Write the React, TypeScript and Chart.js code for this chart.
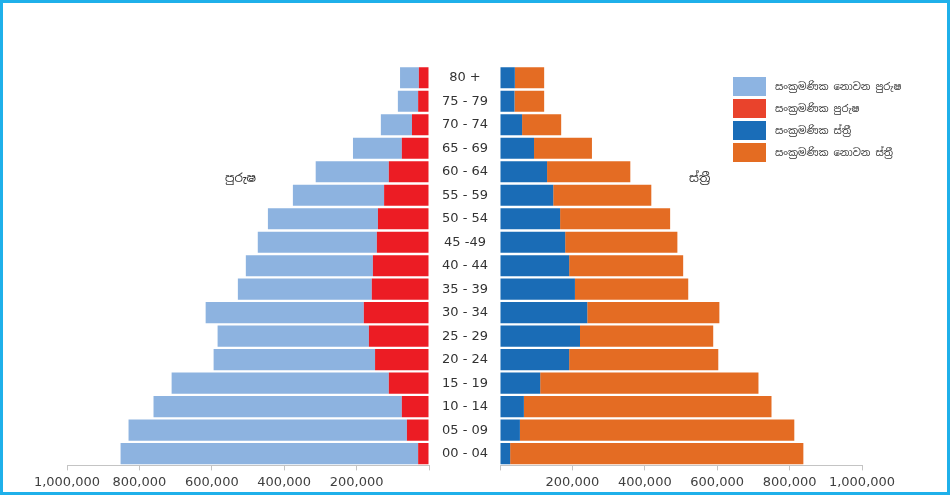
import React, { useEffect, useRef } from "react";
import { Chart, registerables } from "chart.js";
Chart.register(...registerables);

const ageGroups = ["80 +", "75 - 79", "70 - 74", "65 - 69", "60 - 64", "55 - 59", "50 - 54", "45 -49", "40 - 44", "35 - 39", "30 - 34", "25 - 29", "20 - 24", "15 - 19", "10 - 14", "05 - 09", "00 - 04"];
const maleMigrant = [28000, 30000, 47000, 75000, 111000, 124000, 141000, 144000, 155000, 158000, 180000, 166000, 149000, 111000, 75000, 61000, 30000];
const maleNonMigrant = [52000, 56000, 86000, 135000, 202000, 252000, 304000, 329000, 351000, 370000, 437000, 418000, 446000, 600000, 686000, 769000, 822000];
const femaleMigrant = [41000, 40000, 61000, 94000, 130000, 147000, 166000, 180000, 191000, 207000, 241000, 221000, 191000, 111000, 66000, 55000, 28000];
const femaleNonMigrant = [81000, 82000, 108000, 160000, 230000, 271000, 304000, 310000, 315000, 313000, 365000, 368000, 412000, 603000, 684000, 758000, 810000];

const seriesNames = ["සංක්‍රමණික නොවන පුරුෂ", "සංක්‍රමණික පුරුෂ", "සංක්‍රමණික ස්ත්‍රී", "සංක්‍රමණික නොවන ස්ත්‍රී"];
const maleTitle = "පුරුෂ";
const femaleTitle = "ස්ත්‍රී";
const axisMax = 1000000;
const axisStep = 200000;

const C_LBLUE = "#8db3e0";
const C_RED = "#ec1c24";
const C_BLUE = "#1a6cb6";
const C_ORANGE = "#e46c23";
const LEGEND_COLORS = ["#8db4e2", "#e9432c", "#1a6db8", "#e46c22"];

const TICK_FONT = { family: "'DejaVu Sans', sans-serif", size: 13 };
const TICK_COLOR = "#404040";
const SINHALA_FONT = "'Noto Sans Sinhala', 'Noto Sans', 'DejaVu Sans', sans-serif";

function fmt(v: number) {
  if (v === 0) return "";
  return Number(v).toLocaleString("en-US");
}

function xScale(reverse: boolean) {
  return {
    type: "linear" as const,
    min: 0,
    max: axisMax,
    reverse,
    stacked: true,
    ticks: {
      stepSize: axisStep,
      color: TICK_COLOR,
      font: TICK_FONT,
      maxRotation: 0,
      autoSkip: false,
      padding: 4,
      callback: (v: any) => fmt(Number(v)),
    },
    grid: {
      display: true,
      drawOnChartArea: false,
      drawTicks: true,
      tickLength: 5,
      color: "#c4c4c4",
    },
    border: { display: true, color: "#c4c4c4" },
  };
}

export default function App() {
  const leftRef = useRef<HTMLCanvasElement>(null);
  const rightRef = useRef<HTMLCanvasElement>(null);

  useEffect(() => {
    const left = new Chart(leftRef.current!, {
      type: "bar",
      data: {
        labels: ageGroups,
        datasets: [
          { label: seriesNames[1], data: maleMigrant, backgroundColor: C_RED, barPercentage: 0.9, categoryPercentage: 1 },
          { label: seriesNames[0], data: maleNonMigrant, backgroundColor: C_LBLUE, barPercentage: 0.9, categoryPercentage: 1 },
        ],
      },
      options: {
        indexAxis: "y",
        responsive: false,
        animation: false,
        layout: { padding: { left: 67, right: 11, top: 66, bottom: 1 } },
        plugins: { legend: { display: false }, tooltip: { enabled: false } },
        scales: {
          x: xScale(true),
          y: { type: "category", stacked: true, display: false },
        },
      },
    });
    const right = new Chart(rightRef.current!, {
      type: "bar",
      data: {
        labels: ageGroups,
        datasets: [
          { label: seriesNames[2], data: femaleMigrant, backgroundColor: C_BLUE, barPercentage: 0.9, categoryPercentage: 1 },
          { label: seriesNames[3], data: femaleNonMigrant, backgroundColor: C_ORANGE, barPercentage: 0.9, categoryPercentage: 1 },
        ],
      },
      options: {
        indexAxis: "y",
        responsive: false,
        animation: false,
        layout: { padding: { left: 0, right: 88, top: 66, bottom: 1 } },
        plugins: { legend: { display: false }, tooltip: { enabled: false } },
        scales: {
          x: xScale(false),
          y: {
            type: "category",
            stacked: true,
            position: "left",
            grid: { display: false, drawTicks: false },
            border: { display: false },
            ticks: { color: "#333", font: TICK_FONT, crossAlign: "center", padding: 12, autoSkip: false },
            afterFit: (scale: any) => {
              scale.width = 65;
            },
          },
        },
      },
    });
    return () => {
      left.destroy();
      right.destroy();
    };
  }, []);

  return (
    <div
      style={{
        position: "fixed",
        left: 0,
        top: 0,
        width: 950,
        height: 495,
        boxSizing: "border-box",
        border: "3px solid #1fb0ea",
        background: "#fff",
        overflow: "hidden",
      }}
    >
      <canvas ref={leftRef} width={440} height={495} style={{ position: "absolute", left: -3, top: -3 }} />
      <canvas ref={rightRef} width={515} height={495} style={{ position: "absolute", left: 432, top: -3 }} />
      <div style={{ position: "absolute", left: 222, top: 167, fontFamily: SINHALA_FONT, fontSize: 12, color: "#333" }}>{maleTitle}</div>
      <div style={{ position: "absolute", left: 686, top: 167, fontFamily: SINHALA_FONT, fontSize: 12, color: "#333" }}>{femaleTitle}</div>
      <div style={{ position: "absolute", left: 730, top: 72 }}>
        {seriesNames.map((n, i) => (
          <div key={i} style={{ display: "flex", alignItems: "center", height: 22 }}>
            <div style={{ width: 33, height: 19, background: LEGEND_COLORS[i], marginRight: 9 }} />
            <span style={{ fontFamily: SINHALA_FONT, fontSize: 10, color: "#333", whiteSpace: "nowrap" }}>{n}</span>
          </div>
        ))}
      </div>
    </div>
  );
}
